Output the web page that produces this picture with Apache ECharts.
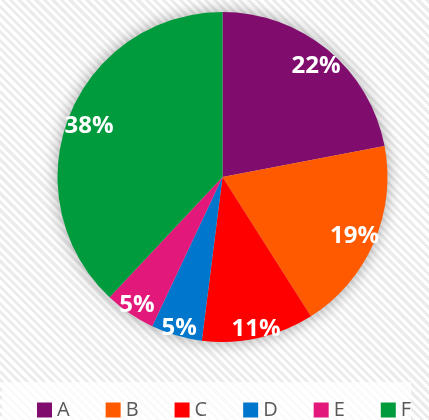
<!DOCTYPE html>
<html>
<head>
<meta charset="utf-8">
<script src="https://cdn.jsdelivr.net/npm/echarts@6/dist/echarts.min.js"></script>
<style>
html,body{margin:0;padding:0;}
#chart{width:429px;height:420px;background:repeating-linear-gradient(45deg,#ffffff 0px,#ffffff 3px,#ececec 3px,#ececec 6px);}
</style>
</head>
<body>
<div id="chart"></div>
<script>
var categories = ['A','B','C','D','E','F'];
var values = [22,19,11,5,5,38];
var colors = ['#800c6e','#ff5a00','#ff0000','#0077cc','#e2197b','#009b3d'];

var chart = echarts.init(document.getElementById('chart'));
var data = categories.map(function(c,i){return {name:c,value:values[i],itemStyle:{color:colors[i]}};});
var CX = 222.5, CY = 177, R = 165;

// place each label inside the slice, pushed toward the rim along the slice's bisector
function rimLabel(p){
  var lr = p.labelRect;
  var mx = lr.x + lr.width/2 - CX, my = lr.y + lr.height/2 - CY;
  var len = Math.sqrt(mx*mx + my*my) || 1;
  var ux = mx/len, uy = my/len;
  var W = lr.width/2, H = 9, off = -4;
  var ext = Math.min(Math.abs(ux) > 1e-6 ? W/Math.abs(ux) : 1e9, Math.abs(uy) > 1e-6 ? H/Math.abs(uy) : 1e9);
  var d = R - off - ext;
  var lim = R + 5;
  while (d > 0) {
    var fx = Math.abs(d*ux) + W, fy = Math.abs(d*uy) + H;
    if (Math.sqrt(fx*fx + fy*fy) <= lim) break;
    d -= 0.5;
  }
  return {x: CX + d*ux - W, y: CY + d*uy - lr.height/2 + 2, align:'left', verticalAlign:'top'};
}

chart.setOption({
  animation:false,
  legend:{
    data:categories,
    bottom:-20,
    left:2,
    width:427,
    padding:[18,0,20,35],
    backgroundColor:'rgba(255,255,255,0.75)',
    itemWidth:15,itemHeight:15,itemGap:36,
    icon:'rect',
    textStyle:{fontFamily:'Open Sans',fontSize:20,color:'#595959'}
  },
  series:[
    {type:'pie',silent:true,center:[CX,CY],radius:R,startAngle:90,
     data:[{value:1,name:'_bg'}],legendHoverLink:false,
     itemStyle:{color:'#ccc',shadowBlur:16,shadowColor:'rgba(0,0,0,0.35)'},
     label:{show:false},labelLine:{show:false}},
    {type:'pie',center:[CX,CY],radius:R,startAngle:90,clockwise:true,
     data:data,
     label:{show:true,position:'inside',formatter:function(p){return Math.round(p.percent)+'%';},
       color:'#fff',fontFamily:'Open Sans',fontWeight:'bold',fontSize:24},
     labelLayout:rimLabel,
     labelLine:{show:false}}
  ]
});
</script>
</body>
</html>
